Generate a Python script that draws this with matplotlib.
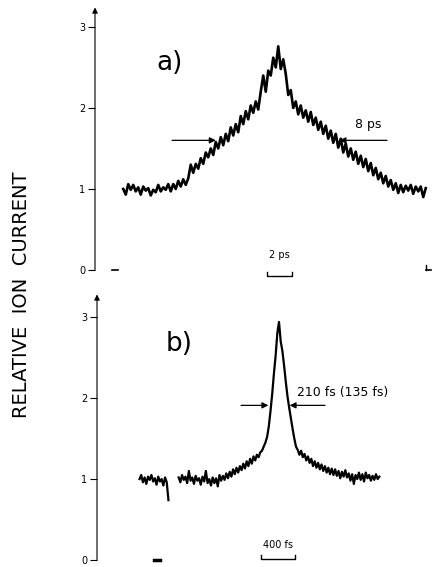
import matplotlib
matplotlib.use("Agg")
import matplotlib.pyplot as plt
import numpy as np

# panel a) delay in ps, relative ion current
t_a = np.linspace(-12.3, 11.9, 122)
ion_a = [1.00, 0.93, 1.06, 0.99, 1.05, 0.97, 1.02, 0.93, 1.03, 0.98,
         1.01, 0.92, 0.99, 0.96, 1.05, 0.97, 1.02, 0.99, 1.06,
         0.97, 1.06, 1.00, 1.10, 1.03, 1.12, 1.05, 1.13, 1.30, 1.20,
         1.31, 1.25, 1.38, 1.31, 1.45, 1.39, 1.50, 1.42, 1.58, 1.50,
         1.64, 1.54, 1.68, 1.59, 1.76, 1.66, 1.80, 1.70, 1.90, 1.80,
         1.96, 1.86, 2.03, 1.94, 2.08, 1.98, 2.20, 2.40, 2.20, 2.46,
         2.40, 2.62, 2.50, 2.76, 2.48, 2.60, 2.42, 2.16, 2.22, 2.00,
         2.08, 1.92, 2.03, 1.88, 1.97, 1.83, 1.95, 1.79, 1.88, 1.73,
         1.83, 1.68, 1.78, 1.62, 1.72, 1.57, 1.68, 1.51, 1.62, 1.45,
         1.56, 1.40, 1.50, 1.36, 1.46, 1.31, 1.41, 1.27, 1.37, 1.22,
         1.32, 1.17, 1.26, 1.12, 1.20, 1.07, 1.16, 1.03, 1.11, 0.99,
         1.07, 0.95, 1.05, 0.96, 1.04, 0.98, 1.05, 0.94, 1.03, 0.97,
         1.03, 0.90, 1.01]

# panel b) delay in fs, two recorded segments
t_b1 = np.linspace(-1640, -1300, 18)
ion_b1 = [1.00, 1.05, 0.96, 1.02, 0.94, 1.03, 0.99, 1.05, 0.97, 1.01,
          0.93, 1.03, 0.97, 1.00, 0.92, 1.02, 0.96, 0.74]
t_b2 = np.linspace(-1180, 1180, 119)
ion_b2 = [1.02, 0.96, 1.05, 0.99, 1.03, 0.95, 1.10, 0.98, 1.02, 0.94,
          1.04, 0.98, 1.01, 0.93, 1.03, 0.97, 1.10, 0.95, 1.00, 0.92,
          1.02, 0.95, 1.01, 0.91, 1.05, 0.98, 1.04, 0.99, 1.07, 1.01,
          1.09, 1.03, 1.12, 1.06, 1.14, 1.08, 1.16, 1.11, 1.19, 1.13,
          1.22, 1.16, 1.25, 1.19, 1.28, 1.23, 1.30, 1.27, 1.33, 1.35,
          1.40, 1.45, 1.52, 1.65, 1.84, 2.05, 2.30, 2.52, 2.80, 2.94,
          2.70, 2.58, 2.40, 2.20, 2.02, 1.88, 1.75, 1.62, 1.50, 1.40,
          1.36, 1.30, 1.35, 1.27, 1.31, 1.23, 1.28, 1.20, 1.25, 1.16,
          1.22, 1.14, 1.20, 1.12, 1.18, 1.10, 1.16, 1.08, 1.14, 1.06,
          1.13, 1.05, 1.12, 1.04, 1.10, 1.01, 1.09, 1.03, 1.11, 1.02,
          1.07, 0.98, 1.06, 0.94, 1.05, 1.00, 1.08, 0.99, 1.06, 0.97,
          1.08, 1.01, 1.05, 0.98, 1.04, 0.99, 1.06, 1.00, 1.03]
assert len(t_a) == len(ion_a) and len(t_b2) == len(ion_b2)

yticks = [0, 1, 2, 3]

fig = plt.figure(figsize=(4.36, 5.67), dpi=100)
ax_a = fig.add_axes([95 / 436, 1 - 285 / 567, 341 / 436, 280 / 567])
ax_b = fig.add_axes([97 / 436, 0, 339 / 436, 275 / 567])

ax_a.set_xlim(-14.56, 12.72)
ax_a.set_ylim(-0.185, 3.27)
ax_b.set_xlim(-2140, 1846)
ax_b.set_ylim(-0.086, 3.31)

for ax in (ax_a, ax_b):
    for s in ax.spines.values():
        s.set_visible(False)
    x0 = ax.get_xlim()[0]
    ax.annotate("", xy=(x0, ax.get_ylim()[1] - 0.03), xytext=(x0, 0),
                arrowprops=dict(arrowstyle="-|>", lw=0.8, color="k",
                                mutation_scale=8, shrinkA=0, shrinkB=0))
    ax.set_xticks([])
    ax.set_yticks(yticks)
    ax.set_yticklabels([str(v) for v in yticks])
    ax.tick_params(axis="y", length=5, width=0.8, pad=2, labelsize=7)
    ax.patch.set_visible(False)

# traces
ax_a.plot(t_a, ion_a, color="k", lw=1.9, zorder=2)
ax_b.plot(t_b1, ion_b1, color="k", lw=1.6, zorder=2)
ax_b.plot(t_b2, ion_b2, color="k", lw=1.6, zorder=2)

# zero-level marks
ax_a.plot([-13.2, -12.7], [0, 0], color="k", lw=1.2)
ax_a.plot([11.9, 12.3], [0, 0], color="k", lw=1.2)
ax_a.plot([11.9, 11.9], [0, 0.06], color="k", lw=1.0)
ax_b.plot([-1470, -1400], [0, 0], color="k", lw=2.5)

# FWHM arrows
arr = dict(arrowstyle="-|>", lw=0.9, color="k", mutation_scale=9,
           shrinkA=0, shrinkB=0)
for ax, tip, tail, y in [(ax_a, -4.9, -8.4, 1.6), (ax_a, 5.0, 8.8, 1.6),
                         (ax_b, -125, -447, 1.91), (ax_b, 125, 541, 1.91)]:
    ax.annotate("", xy=(tip, y), xytext=(tail, y), arrowprops=arr, zorder=4)
ax_a.text(7.3, 1.79, "8 ps", fontsize=9, ha="center", va="center")
ax_b.text(212, 2.07, "210 fs (135 fs)", fontsize=9, ha="left", va="center")

# time scale bars
ax_a.plot([-0.8, -0.8, 1.2, 1.2], [-0.02, -0.07, -0.07, -0.02], color="k", lw=1.0)
ax_a.text(0.2, 0.185, "2 ps", fontsize=7, ha="center", va="center")
ax_b.plot([-212, -212, 188, 188], [0.06, 0.01, 0.01, 0.06], color="k", lw=1.0)
ax_b.text(-12, 0.185, "400 fs", fontsize=7, ha="center", va="center")

# panel labels
ax_a.text(-8.6, 2.55, "a)", fontsize=19, ha="center", va="center")
ax_b.text(-1170, 2.67, "b)", fontsize=19, ha="center", va="center")

fig.text(22 / 436, 1 - 295 / 567, "RELATIVE  ION  CURRENT", rotation=90,
         fontsize=14, ha="center", va="center")

fig.savefig("out.png", dpi=100)
